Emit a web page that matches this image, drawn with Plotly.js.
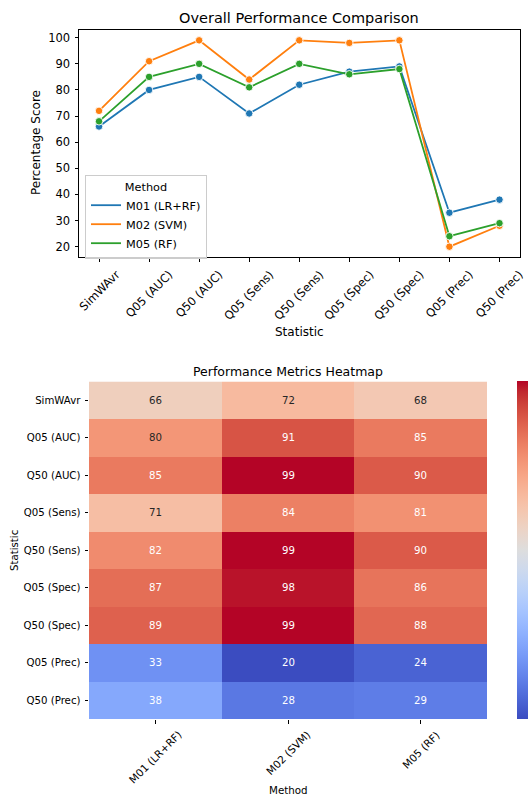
<!DOCTYPE html>
<html>
<head>
<meta charset="utf-8">
<script src="https://cdn.plot.ly/plotly-3.0.1.min.js"></script>
<style>html,body{margin:0;padding:0;background:#fff;}#chart{width:528px;height:798px;}</style>
</head>
<body>
<div id="chart"></div>
<script>
// ---- data ----
const statistics = ['SimWAvr','Q05 (AUC)','Q50 (AUC)','Q05 (Sens)','Q50 (Sens)','Q05 (Spec)','Q50 (Spec)','Q05 (Prec)','Q50 (Prec)'];
const methods = ['M01 (LR+RF)','M02 (SVM)','M05 (RF)'];
const m01 = [66, 80, 85, 71, 82, 87, 89, 33, 38];
const m02 = [72, 91, 99, 84, 99, 98, 99, 20, 28];
const m05 = [68, 85, 90, 81, 90, 86, 88, 24, 29];
const yTicks = [20, 30, 40, 50, 60, 70, 80, 90, 100];
const seriesColors = ['#1f77b4', '#ff7f0e', '#2ca02c'];

// ---- styles ----
const W = 528, H = 798;
const FONT = 'DejaVu Sans';
const px = v => v / W;
const py = v => 1 - v / H;

// coolwarm (Moreland) colour table
const cw = [[59,76,192],[68,90,204],[77,104,215],[87,117,225],[98,130,234],[108,142,241],[119,154,247],[130,165,251],[141,176,254],[152,185,255],[163,194,255],[174,201,253],[184,208,249],[194,213,244],[204,217,238],[213,219,230],[221,221,221],[229,216,209],[236,211,197],[241,204,184],[245,196,172],[247,187,160],[247,177,148],[247,166,135],[244,154,123],[241,141,111],[236,127,99],[229,112,88],[222,96,77],[213,80,66],[203,62,56],[192,40,47],[180,4,38]];
const colorscale = cw.map((c, i) => [i / (cw.length - 1), `rgb(${c[0]},${c[1]},${c[2]})`]);
function cwAt(t) {
  t = Math.max(0, Math.min(1, t));
  const f = t * (cw.length - 1), i = Math.min(Math.floor(f), cw.length - 2), r = f - i;
  return [0,1,2].map(k => cw[i][k] + (cw[i+1][k] - cw[i][k]) * r);
}
function lum(c) {
  const l = c.map(v => { v /= 255; return v <= 0.03928 ? v / 12.92 : Math.pow((v + 0.055) / 1.055, 2.4); });
  return 0.2126 * l[0] + 0.7152 * l[1] + 0.0722 * l[2];
}

const series = [m01, m02, m05];
const traces = [];
series.forEach((vals, k) => {
  traces.push({
    type: 'scatter', mode: 'lines+markers', x: statistics, y: vals,
    xaxis: 'x', yaxis: 'y', showlegend: false,
    line: {color: seriesColors[k], width: 1.8},
    marker: {color: seriesColors[k], size: 7.5, line: {color: 'white', width: 0.9}}
  });
});
series.forEach((vals, k) => {
  traces.push({
    type: 'scatter', mode: 'lines', x: [null], y: [null], name: methods[k],
    xaxis: 'x', yaxis: 'y', showlegend: true,
    line: {color: seriesColors[k], width: 1.8}
  });
});

const z = statistics.map((s, i) => series.map(v => v[i]));
const all = z.flat();
const zmin = Math.min(...all), zmax = Math.max(...all);

traces.push({
  type: 'heatmap', x: methods, y: statistics, z: z, xaxis: 'x2', yaxis: 'y2',
  colorscale: colorscale, zmin: zmin, zmax: zmax, showscale: true, xgap: 0, ygap: 0,
  hoverinfo: 'skip',
  colorbar: {x: px(517), xanchor: 'left', y: py(719), yanchor: 'bottom', len: (719 - 381.5) / H, lenmode: 'fraction',
             thickness: 17, outlinewidth: 0, xpad: 0, ypad: 0, ticks: '', showticklabels: false}
});

const annotations = [];
// titles
annotations.push({text: 'Overall Performance Comparison', x: px(299), y: py(18), xref: 'paper', yref: 'paper', showarrow: false, xanchor: 'center', yanchor: 'middle', font: {family: FONT, size: 14.5, color: '#000'}});
annotations.push({text: 'Performance Metrics Heatmap', x: px(288), y: py(371), xref: 'paper', yref: 'paper', showarrow: false, xanchor: 'center', yanchor: 'middle', font: {family: FONT, size: 12.5, color: '#000'}});
// axis titles
annotations.push({text: 'Percentage Score', x: px(36), y: py(143), xref: 'paper', yref: 'paper', showarrow: false, textangle: -90, xanchor: 'center', yanchor: 'middle', font: {family: FONT, size: 12, color: '#000'}});
annotations.push({text: 'Statistic', x: px(299), y: py(332), xref: 'paper', yref: 'paper', showarrow: false, xanchor: 'center', yanchor: 'middle', font: {family: FONT, size: 12, color: '#000'}});
annotations.push({text: 'Statistic', x: px(14), y: py(551), xref: 'paper', yref: 'paper', showarrow: false, textangle: -90, xanchor: 'center', yanchor: 'middle', font: {family: FONT, size: 10.2, color: '#000'}});
annotations.push({text: 'Method', x: px(288), y: py(790), xref: 'paper', yref: 'paper', showarrow: false, xanchor: 'center', yanchor: 'middle', font: {family: FONT, size: 10.3, color: '#000'}});
// rotated x tick labels (centred on ticks, as in the reference)
statistics.forEach(s => {
  annotations.push({text: s, x: s, y: py(265), xref: 'x', yref: 'paper', showarrow: false, textangle: -45, xanchor: 'center', yanchor: 'top', font: {family: FONT, size: 11.5, color: '#000'}});
});
methods.forEach(m => {
  annotations.push({text: m, x: m, y: py(726), xref: 'x2', yref: 'paper', showarrow: false, textangle: -45, xanchor: 'center', yanchor: 'top', font: {family: FONT, size: 10.5, color: '#000'}});
});
// heatmap cell values
statistics.forEach((s, i) => {
  methods.forEach((m, j) => {
    const v = z[i][j];
    const c = cwAt((v - zmin) / (zmax - zmin));
    annotations.push({text: String(v), x: m, y: s, xref: 'x2', yref: 'y2', showarrow: false, xanchor: 'center', yanchor: 'middle',
      font: {family: FONT, size: 10.2, color: lum(c) > 0.408 ? '#262626' : '#ffffff'}});
  });
});

const layout = {
  width: W, height: H, margin: {l: 0, r: 0, t: 0, b: 0, autoexpand: false},
  paper_bgcolor: '#fff', plot_bgcolor: '#fff',
  font: {family: FONT, color: '#000'},
  showlegend: true,
  legend: {x: px(85), y: py(175), xanchor: 'left', yanchor: 'top', bgcolor: 'rgba(255,255,255,0.8)', bordercolor: '#cccccc', borderwidth: 1,
           font: {family: FONT, size: 11.3, color: '#000'}, title: {text: 'Method', side: 'top center', font: {family: FONT, size: 11.3, color: '#000'}},
           tracegroupgap: 0, itemwidth: 30},
  xaxis: {domain: [px(79), px(519.5)], anchor: 'y', type: 'category', range: [-0.4, 8.4], showticklabels: false,
          ticks: 'outside', ticklen: 3.5, tickwidth: 1, tickcolor: '#000', showline: true, mirror: true, linecolor: '#000', linewidth: 1,
          showgrid: false, zeroline: false, fixedrange: true},
  yaxis: {domain: [py(257), py(30)], anchor: 'x', range: [16.05, 102.95], tickvals: yTicks, ticktext: yTicks.map(String),
          ticks: 'outside', ticklen: 3.5, tickwidth: 1, tickcolor: '#000', showline: true, mirror: true, linecolor: '#000', linewidth: 1,
          showgrid: false, zeroline: false, tickfont: {family: FONT, size: 11.5, color: '#000'}, ticklabelstandoff: 2},
  xaxis2: {domain: [px(89), px(487)], anchor: 'y2', type: 'category', showticklabels: false, ticks: 'outside', ticklen: 3.5, tickwidth: 1,
           tickcolor: '#000', showline: false, showgrid: false, zeroline: false},
  yaxis2: {domain: [py(719), py(381.5)], anchor: 'x2', type: 'category', autorange: 'reversed', ticks: 'outside', ticklen: 3.5, tickwidth: 1,
           tickcolor: '#000', showline: false, showgrid: false, zeroline: false, tickfont: {family: FONT, size: 10.2, color: '#000'}, ticklabelstandoff: 2},
  annotations: annotations
};

Plotly.newPlot('chart', traces, layout, {displayModeBar: false, staticPlot: true});
</script>
</body>
</html>
